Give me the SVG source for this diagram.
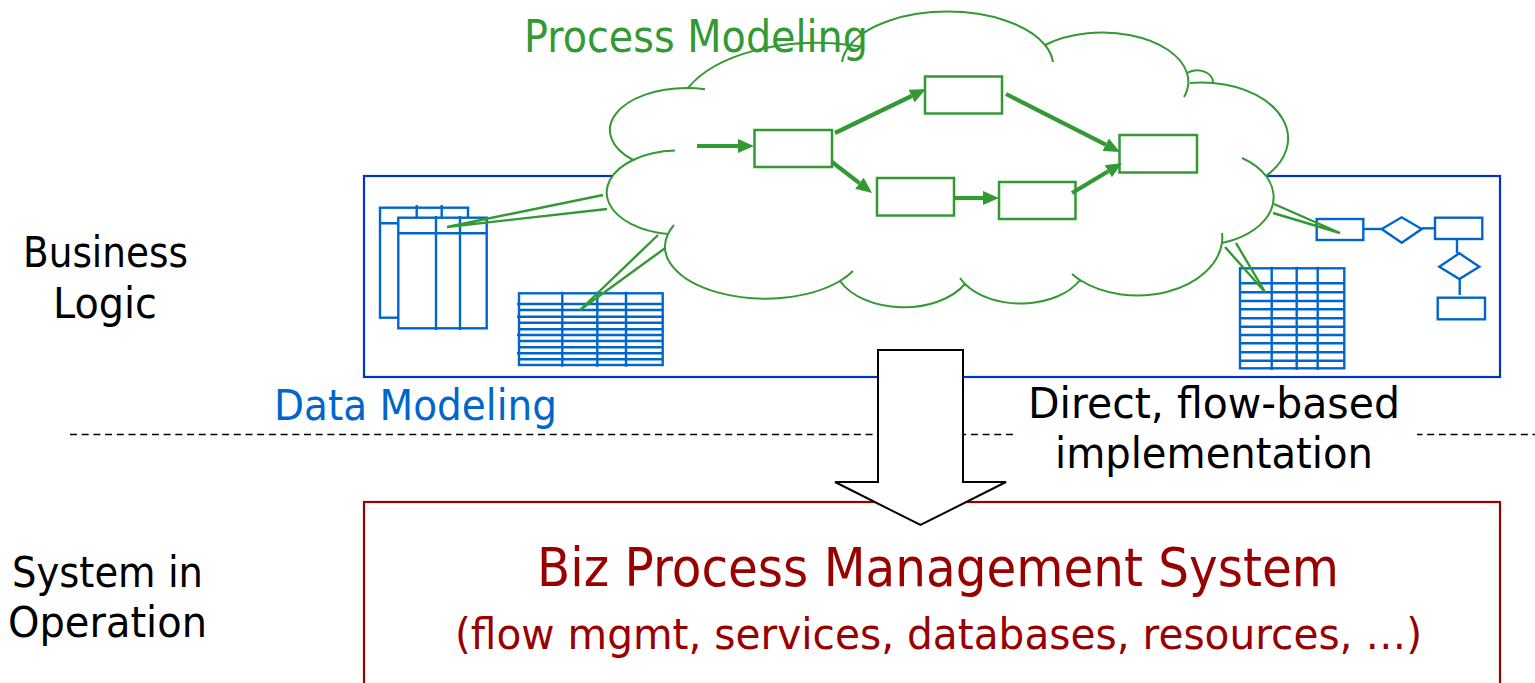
<svg xmlns="http://www.w3.org/2000/svg" width="1535" height="683" viewBox="0 0 1535 683">
<style>
  .txt{font-family:"DejaVu Sans","Liberation Sans",Arial,sans-serif}
  .lbl{font-size:42px;fill:#000}
  .frame-blue{fill:none;stroke:#0033cc;stroke-width:2.2}
  .frame-red{fill:none;stroke:#990000;stroke-width:2.2}
  .grid{fill:none;stroke:#0066cc;stroke-width:2.4}
  .sheet{fill:#fff;stroke:#0066cc;stroke-width:2.4}
  .cloud{fill:#fff;stroke:#339933;stroke-width:2}
  .deco{fill:none;stroke:#339933;stroke-width:2}
  .tail{fill:none;stroke:#339933;stroke-width:2.4}
  .step{fill:#fff;stroke:#339933;stroke-width:2.5}
  .flow{fill:none;stroke:#339933;stroke-width:4.2}
</style>
<defs>
  <marker id="head" markerUnits="userSpaceOnUse" markerWidth="16" markerHeight="14" refX="0" refY="7" orient="auto">
    <path d="M0,0 L16,7 L0,14 z" fill="#339933"/>
  </marker>
</defs>
<rect width="1535" height="683" fill="#fff"/>

<!-- business-logic frame -->
<g id="data-frame">
  <rect class="frame-blue" x="364" y="176" width="1136" height="201"/>
</g>

<!-- stacked entity tables -->
<g id="table-stack">
  <rect class="sheet" x="380" y="207.7" width="88" height="110"/>
  <path class="grid" d="M380 223.3 H468 M416.7 205 V217.7 M441.7 205 V217.7"/>
  <rect class="sheet" x="398.3" y="217.7" width="88.4" height="110.6"/>
  <path class="grid" d="M398.3 233.3 H486.7 M436 216 V330 M460 216 V330"/>
</g>

<!-- row table, lower left -->
<g id="row-table-left">
  <rect class="sheet" x="519" y="293.3" width="143.7" height="71.7"/>
  <path class="grid" d="M517 304 H663 M519 310 H663 M517 316.7 H664 M519 322.7 H663 M519 329.3 H663 M517 335 H663 M519 341 H663 M519 347.3 H663 M517 353.3 H663 M519 359.3 H663 M562.3 291.7 V366.7 M597.3 291.7 V366.7 M626 291.7 V366.7"/>
</g>

<!-- row table, right -->
<g id="row-table-right">
  <rect class="sheet" x="1240" y="268.3" width="104.3" height="100"/>
  <path class="grid" d="M1240 283.3 H1344 M1240 292.3 H1344 M1240 301 H1344 M1240 309.3 H1345 M1240 318.3 H1344 M1240 326.7 H1344 M1240 335 H1344 M1240 343.3 H1344 M1239 352.3 H1344 M1240 360.7 H1344 M1271.7 266.7 V370 M1296.7 266.7 V370 M1317.7 266.7 V370"/>
</g>

<!-- entity-relationship sketch -->
<g id="er-sketch">
  <rect class="sheet" x="1316.7" y="219" width="46.6" height="21"/>
  <path class="grid" d="M1363.3 229 H1381.7"/>
  <path class="sheet" d="M1381.7 229 L1401.7 217.3 L1421.7 229 L1401.7 242.7 Z"/>
  <path class="grid" d="M1421.7 228.3 H1435"/>
  <rect class="sheet" x="1435" y="217.7" width="47.3" height="21.3"/>
  <path class="grid" d="M1457 239 V253.3"/>
  <path class="sheet" d="M1439.3 266.7 L1459.3 253.3 L1479.3 266.7 L1459.3 279 Z"/>
  <path class="grid" d="M1459.7 279 V295"/>
  <rect class="sheet" x="1437.7" y="297.7" width="47.3" height="21.6"/>
</g>

<!-- callout tails from the cloud to the data items -->
<g id="callout-tails">
  <path class="tail" d="M603 195 L447 227 L607 209"/>
  <path class="tail" d="M658 235 L580 310 L668 246"/>
  <path class="tail" d="M1274 204 L1340 233 L1273 213"/>
  <path class="tail" d="M1225 247 L1265 292 L1236 243"/>
</g>

<!-- process cloud -->
<g id="process-cloud">
  <path class="cloud" d="M633 160
    A77 42 0 0 1 688 88
    A140 75 0 0 1 850 45
    A106 55 0 0 1 1045 45
    A86 49 0 0 1 1187 73
    A16 12 0 0 1 1213 83
    A86 56 0 0 1 1266 176
    A74 48 0 0 1 1222 243
    A85 59 0 0 1 1080 280
    A66 42 0 0 1 965 284
    A70 45 0 0 1 840 281
    A100 52 0 0 1 668 234
    A72 42 0 0 1 633 160 Z"/>
  <path class="deco" d="M633 160 A72 42 0 0 1 675 150.6
    M688 88 A77 42 0 0 1 705 89.2
    M850 45 A140 75 0 0 1 860 46.5
    M850 45 A106 55 0 0 0 842 62
    M1045 45 A106 55 0 0 1 1053 62
    M1187 73 A86 49 0 0 1 1184 97
    M1213 83 A86 56 0 0 0 1190 83
    M1266 176 A74 48 0 0 0 1242 158
    M1222 243 A85 59 0 0 0 1222 233
    M1080 280 A85 59 0 0 1 1072 274
    M965 284 A66 42 0 0 1 960 278
    M840 281 A100 52 0 0 0 853 271
    M668 234 A100 52 0 0 1 674 225"/>
</g>

<!-- process steps -->
<g id="step-a"><rect class="step" x="754.5" y="130" width="77.5" height="37"/></g>
<g id="step-b"><rect class="step" x="925" y="76.5" width="77" height="37"/></g>
<g id="step-c"><rect class="step" x="877" y="178" width="77" height="37.5"/></g>
<g id="step-d"><rect class="step" x="999" y="182" width="76.5" height="37"/></g>
<g id="step-e"><rect class="step" x="1119.5" y="135" width="77.5" height="37.5"/></g>

<!-- process flow -->
<g id="flow-connectors">
  <path class="flow" marker-end="url(#head)" d="M697 146 L738 146"/>
  <path class="flow" marker-end="url(#head)" d="M835 133 L911.6 96"/>
  <path class="flow" marker-end="url(#head)" d="M832 162 L859.4 183.2"/>
  <path class="flow" marker-end="url(#head)" d="M1006 94 L1105.7 144.7"/>
  <path class="flow" marker-end="url(#head)" d="M954 198 L983 198"/>
  <path class="flow" marker-end="url(#head)" d="M1072 193 L1108.3 171.2"/>
</g>

<!-- labels -->
<g id="labels" class="txt">
  <text x="524" y="52" font-size="44" fill="#339933" textLength="344" lengthAdjust="spacingAndGlyphs">Process Modeling</text>
  <text class="lbl" x="23" y="267" textLength="165" lengthAdjust="spacingAndGlyphs">Business</text>
  <text class="lbl" x="53" y="318" textLength="104" lengthAdjust="spacingAndGlyphs">Logic</text>
  <text class="lbl" x="274" y="420" style="fill:#0066cc" textLength="283" lengthAdjust="spacingAndGlyphs">Data Modeling</text>
  <text class="lbl" x="12" y="587" style="font-size:43px" textLength="191" lengthAdjust="spacingAndGlyphs">System in</text>
  <text class="lbl" x="8" y="637" style="font-size:43px" textLength="199" lengthAdjust="spacingAndGlyphs">Operation</text>
</g>

<!-- layer divider -->
<g id="divider">
  <path d="M70 434.5 H1535" stroke="#000" stroke-width="1.7" stroke-dasharray="7 4.7" fill="none"/>
  <rect x="1013" y="382" width="404" height="100" fill="#fff"/>
  <text class="txt lbl" x="1028" y="418" textLength="372" lengthAdjust="spacingAndGlyphs">Direct, flow-based</text>
  <text class="txt lbl" x="1055" y="468" textLength="318" lengthAdjust="spacingAndGlyphs">implementation</text>
</g>

<!-- operational system -->
<g id="bpms">
  <rect class="frame-red" x="364" y="502" width="1136" height="200"/>
  <text class="txt" x="537" y="586" font-size="53" fill="#990000" textLength="802" lengthAdjust="spacingAndGlyphs">Biz Process Management System</text>
  <text class="txt" x="455" y="649" font-size="42" fill="#990000" textLength="967" lengthAdjust="spacingAndGlyphs">(flow mgmt, services, databases, resources, …)</text>
</g>

<!-- transition arrow -->
<g id="implementation-arrow">
  <path d="M878 350 H963 V482 H1006 L920.5 525 L835 482 H878 Z" fill="#fff" stroke="#000" stroke-width="2"/>
</g>
</svg>
